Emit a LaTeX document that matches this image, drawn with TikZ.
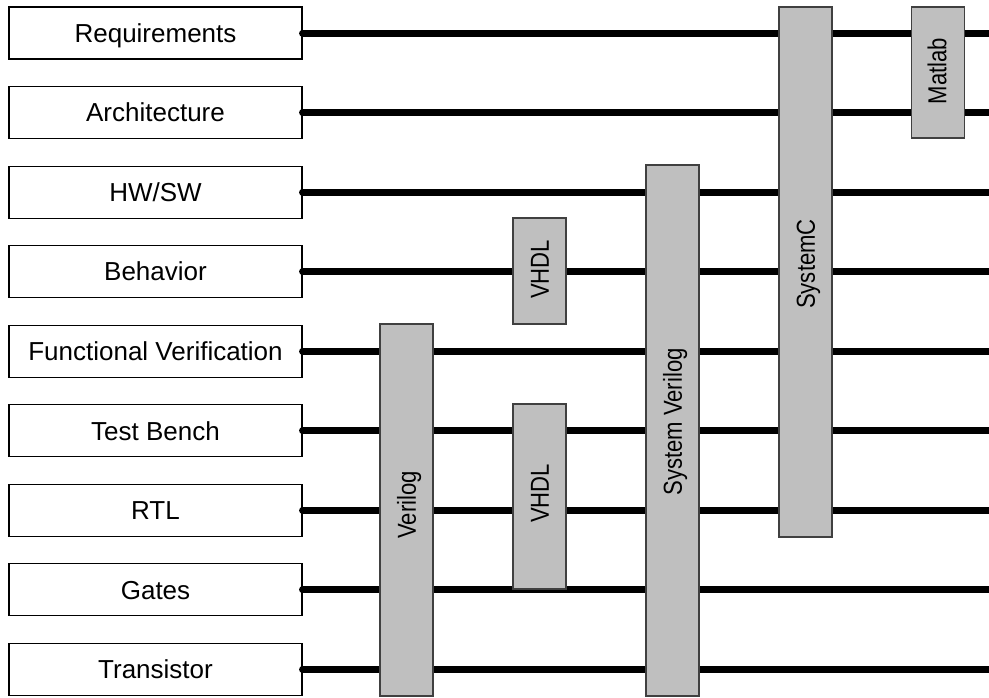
\documentclass[tikz,border=0pt]{standalone}
\usepackage{fontspec}
\setmainfont{Liberation Sans}
\begin{document}
\begin{tikzpicture}[x=1pt,y=-1pt,
  lab/.style={draw=black, line width=1.1pt, fill=white, minimum width=293pt, minimum height=52pt, inner sep=0pt, text height=18.6pt, text depth=0pt, font=\fontsize{26}{30}\selectfont},
  bus/.style={line width=7pt, line cap=round, draw=black},
  bar/.style={draw=black!75, line width=1.1pt, fill=black!25, minimum width=53pt, inner sep=0pt},
  vtxt/.style={rotate=90, inner sep=0pt, text height=18.6pt, text depth=0pt, font=\fontsize{26}{30}\selectfont}]
\useasboundingbox (0,0) rectangle (989,697);
\coordinate (E) at (995,0);
% row labels
\node[lab] (r1) at (155.5,33.00) {Requirements};
\node[lab] (r2) at (155.5,112.56) {Architecture};
\node[lab] (r3) at (155.5,192.12) {HW/SW};
\node[lab] (r4) at (155.5,271.68) {Behavior};
\node[lab] (r5) at (155.5,351.24) {Functional Verification};
\node[lab] (r6) at (155.5,430.80) {Test Bench};
\node[lab] (r7) at (155.5,510.36) {RTL};
\node[lab] (r8) at (155.5,589.92) {Gates};
\node[lab] (r9) at (155.5,669.48) {Transistor};
% buses
\foreach \n in {r1,r2,r3,r4,r5,r6,r7,r8,r9}
  \draw[bus] (\n.east) -- (\n.east -| E);
% language bars
\node[bar, minimum height=372pt] (verilog) at (406.5,510) {};
\node[vtxt] (verilogT) at (406.5,505) {\scalebox{0.85}[1]{Verilog}};
\node[bar, minimum height=106pt] (vhdlA) at (539.5,271) {};
\node[vtxt] (vhdlAT) at (539.5,269.5) {\scalebox{0.85}[1]{VHDL}};
\node[bar, minimum height=185pt] (vhdlB) at (539.5,496.5) {};
\node[vtxt] (vhdlBT) at (539.5,493.5) {\scalebox{0.85}[1]{VHDL}};
\node[bar, minimum height=531pt] (sv) at (672.5,430.5) {};
\node[vtxt] (svT) at (672.5,422) {\scalebox{0.85}[1]{System Verilog}};
\node[bar, minimum height=530pt] (sc) at (805.5,272) {};
\node[vtxt] (scT) at (805.5,264) {\scalebox{0.85}[1]{SystemC}};
\node[bar, minimum height=131pt] (matlab) at (938,72.5) {};
\node[vtxt] (matlabT) at (937,71) {\scalebox{0.85}[1]{Matlab}};
\end{tikzpicture}
\end{document}
